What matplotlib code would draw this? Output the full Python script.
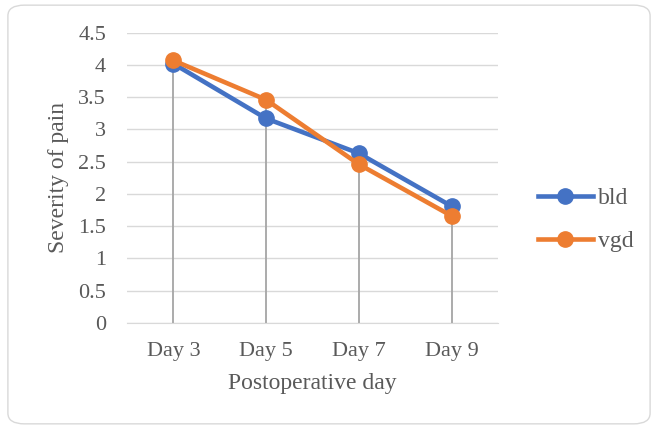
import numpy as np
import matplotlib.pyplot as plt
from matplotlib.patches import FancyBboxPatch

days = ['Day 3', 'Day 5', 'Day 7', 'Day 9']
bld = [4.02, 3.17, 2.63, 1.81]
vgd = [4.07, 3.46, 2.46, 1.66]
yticks = [0, 0.5, 1, 1.5, 2, 2.5, 3, 3.5, 4, 4.5]

plt.rcParams['font.family'] = ['Liberation Serif', 'DejaVu Serif']
txt = '#595959'

fig = plt.figure(figsize=(6.58, 4.29), dpi=100)
fig.patches.append(FancyBboxPatch((0.012, 0.012), 0.976, 0.976,
                                  boxstyle='round,pad=0,rounding_size=0.025',
                                  transform=fig.transFigure, fc='white',
                                  ec='#D9D9D9', lw=1, zorder=-5))
ax = fig.add_axes([127 / 658, 1 - 323 / 429, (498 - 127) / 658, (323 - 32.7) / 429])
ax.patch.set_alpha(0)

x = np.arange(len(days))
top = np.maximum(bld, vgd)
ax.vlines(x, 0, top, color='#A5A5A5', lw=1.3, zorder=2)
ax.plot(x, bld, color='#4472C4', lw=3.3, marker='o', ms=11, label='bld', zorder=3)
ax.plot(x, vgd, color='#ED7D31', lw=3.3, marker='o', ms=11, label='vgd', zorder=4)

ax.set_xlim(-0.5, len(days) - 0.5)
ax.set_ylim(0, 4.5)
ax.set_yticks(yticks)
ax.set_yticklabels([f'{v:g}' for v in yticks])
ax.set_xticks(x)
ax.set_xticklabels(days)
ax.yaxis.grid(True, color='#D9D9D9', lw=1)
ax.set_axisbelow(True)
for s in ['top', 'right', 'left']:
    ax.spines[s].set_visible(False)
ax.spines['bottom'].set_color('#D9D9D9')
ax.tick_params(length=0, labelsize=16, colors=txt)
ax.tick_params(axis='y', pad=15)
ax.tick_params(axis='x', pad=14)
ax.set_xlabel('Postoperative day', fontsize=17, color=txt, labelpad=8)
ax.set_ylabel('Severity of pain', fontsize=17, color=txt, labelpad=7)

ax.legend(loc='center left', bbox_to_anchor=(1.05, 0.355), frameon=False,
          fontsize=17, labelcolor=txt, handlelength=2.33, handletextpad=0.2,
          labelspacing=0.9)

fig.savefig('out.png', dpi=100)
